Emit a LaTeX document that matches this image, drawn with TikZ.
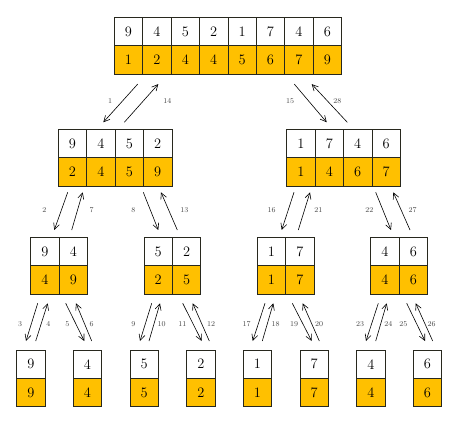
\documentclass[tikz,border=0pt]{standalone}
\usetikzlibrary{arrows.meta, calc}

\definecolor{sortgold}{RGB}{255, 192, 0}
\definecolor{cellline}{RGB}{40, 40, 30}
\definecolor{steptext}{RGB}{70, 70, 70}

\tikzset{
  cell/.style={draw=cellline, line width=0.8pt, fill=white, minimum size=28.4pt, inner sep=0pt, font=\Large},
  sorted/.style={fill=sortgold},
  frame/.style={inner sep=0pt, outer sep=0pt, minimum height=56.8pt},
  call/.style={-{Straight Barb[length=6pt, width=6pt]}, line width=0.6pt},
  stepno/.style={font=\fontsize{7.5}{8}\selectfont, text=steptext, inner sep=1pt}
}

% #1 name, #2 cells, #3 left x, #4 top y, #5 input, #6 sorted
\newcommand{\sortarray}[6]{%
  \node[frame, minimum width=#2*28.4pt] (#1) at ({#3+#2*14.2}, {#4+28.4}) {};
  \foreach \v [count=\i] in {#5}
    \node[cell] (#1-t\i) at ({#3+(\i-0.5)*28.4}, {#4+14.2}) {\v};
  \foreach \v [count=\i] in {#6}
    \node[cell, sorted] (#1-b\i) at ({#3+(\i-0.5)*28.4}, {#4+42.6}) {\v};
}

\begin{document}
\begin{tikzpicture}[x=1pt, y=-1pt]
  \useasboundingbox (0,0) rectangle (465,427);

  % whole array
  \sortarray{root}{8}{114.3}{17.3}{9,4,5,2,1,7,4,6}{1,2,4,4,5,6,7,9}

  % halves
  \sortarray{left}{4}{58.3}{129.3}{9,4,5,2}{2,4,5,9}
  \sortarray{right}{4}{286.7}{129.3}{1,7,4,6}{1,4,6,7}

  % quarters
  \sortarray{ll}{2}{30.7}{237.3}{9,4}{4,9}
  \sortarray{lr}{2}{144}{237.3}{5,2}{2,5}
  \sortarray{rl}{2}{257.3}{237.3}{1,7}{1,7}
  \sortarray{rr}{2}{370.7}{237.3}{4,6}{4,6}

  % single elements
  \sortarray{leaf1}{1}{16.7}{350}{9}{9}
  \sortarray{leaf2}{1}{73.3}{350}{4}{4}
  \sortarray{leaf3}{1}{130}{350}{5}{5}
  \sortarray{leaf4}{1}{186.7}{350}{2}{2}
  \sortarray{leaf5}{1}{243.3}{350}{1}{1}
  \sortarray{leaf6}{1}{300}{350}{7}{7}
  \sortarray{leaf7}{1}{356.7}{350}{4}{4}
  \sortarray{leaf8}{1}{413.3}{350}{6}{6}

  % calls and returns, first level
  \draw[call] ($(root.south)+(-90.2,10)$) -- ($(left.north)+(-11.8,-7)$);
  \draw[call] ($(left.north)+(9.2,-7)$) -- ($(root.south)+(-69.6,10)$);
  \draw[call] ($(root.south)+(66.4,10)$) -- ($(right.north)+(-16.8,-7)$);
  \draw[call] ($(right.north)+(3.8,-7)$) -- ($(root.south)+(83.8,10)$);

  % second level
  \draw[call] ($(left.south)+(-47.4,6.2)$) -- ($(ll.north)+(-4.8,-7.3)$);
  \draw[call] ($(ll.north)+(12.6,-7.3)$) -- ($(left.south)+(-32.4,6.2)$);
  \draw[call] ($(left.south)+(28.2,6.2)$) -- ($(lr.north)+(-14.1,-7.3)$);
  \draw[call] ($(lr.north)+(4.9,-7.3)$) -- ($(left.south)+(45.9,6.2)$);
  \draw[call] ($(right.south)+(-49.5,6.2)$) -- ($(rl.north)+(-4,-7.3)$);
  \draw[call] ($(rl.north)+(12.6,-7.3)$) -- ($(right.south)+(-33.5,6.2)$);
  \draw[call] ($(right.south)+(32.2,6.2)$) -- ($(rr.north)+(-8.1,-7.3)$);
  \draw[call] ($(rr.north)+(10.9,-7.3)$) -- ($(right.south)+(49.8,6.2)$);

  % third level
  \draw[call] ($(ll.south)+(-21.4,9.2)$) -- ($(leaf1.north)+(-4.9,-9)$);
  \draw[call] ($(leaf1.north)+(4.8,-9)$) -- ($(ll.south)+(-11.4,9.2)$);
  \draw[call] ($(ll.south)+(6.6,9.2)$) -- ($(leaf2.north)+(-3.2,-9)$);
  \draw[call] ($(leaf2.north)+(4.2,-9)$) -- ($(ll.south)+(16.9,9.2)$);
  \draw[call] ($(lr.south)+(-20.7,9.2)$) -- ($(leaf3.north)+(-4.2,-9)$);
  \draw[call] ($(leaf3.north)+(4.8,-9)$) -- ($(lr.south)+(-12.4,9.2)$);
  \draw[call] ($(lr.south)+(10.3,9.2)$) -- ($(leaf4.north)+(0.8,-9)$);
  \draw[call] ($(leaf4.north)+(8.4,-9)$) -- ($(lr.south)+(20.3,9.2)$);
  \draw[call] ($(rl.south)+(-20.7,9.2)$) -- ($(leaf5.north)+(-4.8,-9)$);
  \draw[call] ($(leaf5.north)+(4.8,-9)$) -- ($(rl.south)+(-12.4,9.2)$);
  \draw[call] ($(rl.south)+(6.6,9.2)$) -- ($(leaf6.north)+(-2.5,-9)$);
  \draw[call] ($(leaf6.north)+(5.1,-9)$) -- ($(rl.south)+(17,9.2)$);
  \draw[call] ($(rr.south)+(-20.8,9.2)$) -- ($(leaf7.north)+(-4.9,-9)$);
  \draw[call] ($(leaf7.north)+(4.8,-9)$) -- ($(rr.south)+(-12.4,9.2)$);
  \draw[call] ($(rr.south)+(7.6,9.2)$) -- ($(leaf8.north)+(-2.5,-9)$);
  \draw[call] ($(leaf8.north)+(5.2,-9)$) -- ($(rr.south)+(16.6,9.2)$);

  % step numbers
  \foreach \n/\x/\y in {1/110/100.7, 14/167.3/100.7, 15/290/100.7, 28/337.3/100.7,
      2/44.3/210, 7/91.7/210, 8/133.3/210, 13/184.3/210,
      16/271.7/210, 21/318.3/210, 22/369.3/210, 27/412.7/210,
      3/20/324, 4/48.3/324, 5/67.3/324, 6/91.7/324,
      9/133.3/324, 10/161.7/324, 11/182.3/324, 12/211/324,
      17/246.7/324, 18/275.7/324, 19/294/324, 20/319/324,
      23/360/324, 24/388.3/324, 25/403.3/324, 26/431.7/324}
    \node[stepno] (step\n) at (\x,\y) {\n};
\end{tikzpicture}
\end{document}
